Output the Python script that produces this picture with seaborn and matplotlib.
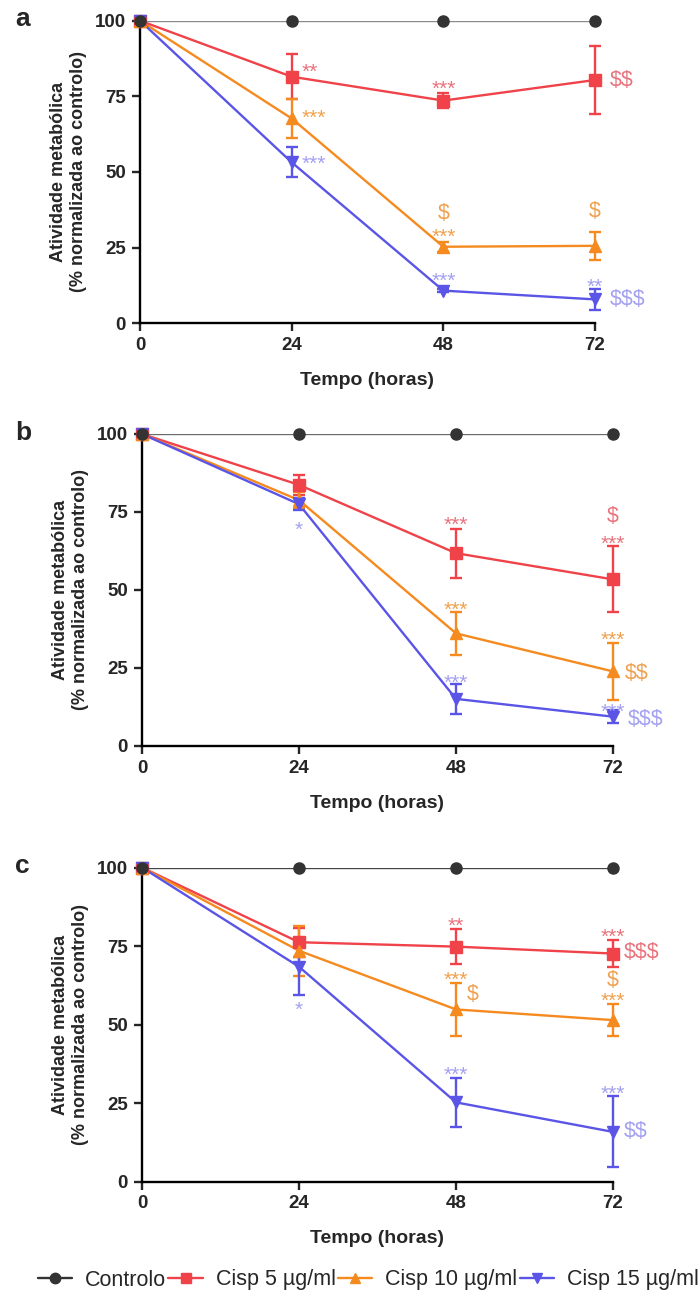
import matplotlib
matplotlib.use("Agg")
import matplotlib.pyplot as plt
import seaborn as sns
import pandas as pd
from matplotlib.lines import Line2D

sns.set_style("ticks")
plt.rcParams['font.family'] = ['Liberation Sans', 'DejaVu Sans']

# time points (hours)
tempo = [0, 24, 48, 72]
grupos = ["Controlo", "Cisp 5 µg/ml", "Cisp 10 µg/ml", "Cisp 15 µg/ml"]

# panel a: means and sd
a_ctrl = [100, 100, 100, 100]
a_c5 = [100, 81.5, 73.6, 80.4]
a_c5_sd = [0, 7.5, 2.6, 11.2]
a_c10 = [100, 67.7, 25.3, 25.6]
a_c10_sd = [0, 6.5, 1.7, 4.7]
a_c15 = [100, 53.2, 10.8, 7.9]
a_c15_sd = [0, 5.0, 0.5, 3.5]

# panel b
b_ctrl = [100, 100, 100, 100]
b_c5 = [100, 83.7, 61.8, 53.4]
b_c5_sd = [0, 3.3, 7.8, 10.6]
b_c10 = [100, 78.8, 36.1, 23.9]
b_c10_sd = [0, 2.5, 7.0, 9.2]
b_c15 = [100, 77.5, 15.1, 9.4]
b_c15_sd = [0, 2.0, 4.8, 2.1]

# panel c
c_ctrl = [100, 100, 100, 100]
c_c5 = [100, 76.2, 74.8, 72.6]
c_c5_sd = [0, 4.6, 5.5, 4.3]
c_c10 = [100, 73.5, 54.8, 51.4]
c_c10_sd = [0, 8.0, 8.5, 5.2]
c_c15 = [100, 68.4, 25.2, 15.8]
c_c15_sd = [0, 9.0, 7.9, 11.3]

# significance labels: (group index, x, y, text, ha)
a_notes = [(1, 25.5, 85.0, "**", "left"), (1, 48, 79.3, "***", "center"), (1, 74.3, 80.4, "$$", "left"),
           (2, 25.5, 69.8, "***", "left"), (2, 48, 36.3, "$", "center"), (2, 48, 30.4, "***", "center"),
           (2, 72, 36.8, "$", "center"),
           (3, 25.5, 54.4, "***", "left"), (3, 48, 15.7, "***", "center"), (3, 72, 13.9, "**", "center"),
           (3, 74.3, 7.9, "$$$", "left")]
b_notes = [(3, 24, 71.0, "*", "center"), (1, 48, 72.7, "***", "center"), (1, 72, 73.7, "$", "center"),
           (1, 72, 66.5, "***", "center"), (2, 48, 45.5, "***", "center"), (2, 72, 35.9, "***", "center"),
           (2, 73.8, 23.3, "$$", "left"), (3, 48, 22.0, "***", "center"), (3, 72, 12.6, "***", "center"),
           (3, 74.3, 8.5, "$$$", "left")]
c_notes = [(3, 24, 56.4, "*", "center"), (1, 48, 83.1, "**", "center"), (1, 72, 79.7, "***", "center"),
           (1, 73.6, 72.9, "$$$", "left"), (2, 48, 65.8, "***", "center"), (2, 49.6, 59.6, "$", "left"),
           (2, 72, 64.1, "$", "center"), (2, 72, 59.2, "***", "center"), (3, 48, 35.7, "***", "center"),
           (3, 72, 29.7, "***", "center"), (3, 73.6, 15.8, "$$", "left")]

cores = ["#333333", "#EF4249", "#F58A1F", "#5A55E6"]
cores_nota = ["#333333", "#E8737C", "#F0A04E", "#A3A0F0"]
marcadores = ["o", "s", "^", "v"]
cor_linha_ctrl = ["#8A8A8A", "#6A6A6A", "#444444"]

paineis = [
    ("a", [a_ctrl, a_c5, a_c10, a_c15], [None, a_c5_sd, a_c10_sd, a_c15_sd], a_notes, [140/699, 1-323.3/1294, 455/699, 302.6/1294]),
    ("b", [b_ctrl, b_c5, b_c10, b_c15], [None, b_c5_sd, b_c10_sd, b_c15_sd], b_notes, [142/699, 1-746/1294, 471/699, 312/1294]),
    ("c", [c_ctrl, c_c5, c_c10, c_c15], [None, c_c5_sd, c_c10_sd, c_c15_sd], c_notes, [142/699, 1-1181.5/1294, 471/699, 314/1294]),
]

fig = plt.figure(figsize=(6.99, 12.94), dpi=100)

for k, (letra, medias, sds, notas, pos) in enumerate(paineis):
    ax = fig.add_axes(pos)
    linhas = []
    for g, nome in enumerate(grupos):
        for t, v in zip(tempo, medias[g]):
            linhas.append({"Tempo": t, "Valor": v, "Grupo": nome})
    df = pd.DataFrame(linhas)
    paleta = dict(zip(grupos, [cor_linha_ctrl[k]] + cores[1:]))
    sns.lineplot(data=df, x="Tempo", y="Valor", hue="Grupo", palette=paleta, ax=ax,
                 linewidth=1.7, legend=False, zorder=2)
    for g, nome in enumerate(grupos):
        if sds[g] is not None:
            ax.errorbar(tempo, medias[g], yerr=sds[g], fmt="none", ecolor=cores[g],
                        elinewidth=1.7, capsize=4, capthick=1.7, zorder=3, clip_on=False)
        ax.plot(tempo, medias[g], linestyle="none", marker=marcadores[g], color=cores[g],
                markersize=8, zorder=4 + (g == 0) * 2, clip_on=False)
    for g, x, y, txt, ha in notas:
        if "*" in txt:
            # asterisks sit high in the glyph box: anchor on baseline and shift down
            ax.annotate(txt, (x, y), xytext=(0, -8.2), textcoords="offset points", color=cores_nota[g],
                        fontsize=15, ha=ha, va="baseline", annotation_clip=False)
        else:
            ax.text(x, y, txt, color=cores_nota[g], fontsize=15.5, ha=ha, va="center", parse_math=False)

    ax.set_xlim(0, 72)
    ax.set_ylim(0, 100)
    ax.set_xticks(tempo)
    ax.set_yticks([0, 25, 50, 75, 100])
    sns.despine(ax=ax)
    for s in ["left", "bottom"]:
        ax.spines[s].set_linewidth(1.7)
        ax.spines[s].set_color("black")
    ax.tick_params(axis="both", length=6, width=1.7, labelsize=13.5, direction="out", pad=4)
    for lab in ax.get_xticklabels() + ax.get_yticklabels():
        lab.set_fontweight("bold")
    ax.set_xlabel("Tempo (horas)", fontsize=14, fontweight="bold", labelpad=13)
    ax.set_ylabel("Atividade metabólica\n(% normalizada ao controlo)", fontsize=13,
                  fontweight="bold", labelpad=6)
    fig.text(0.022, pos[1] + pos[3] + 0.001, letra, fontsize=19, fontweight="bold",
             va="center", ha="left")

alcas = [Line2D([0], [0], color=cores[g] if g else "#333333", marker=marcadores[g], markersize=7.5,
                linewidth=1.7) for g in range(4)]
fig.legend(alcas, grupos, loc="center", bbox_to_anchor=(0.527, 1 - 1280/1294), ncol=4, frameon=False,
           fontsize=15.5, handlelength=1.6, handletextpad=0.6, columnspacing=0.1, borderpad=0.1)

fig.savefig("out.png", dpi=100)
